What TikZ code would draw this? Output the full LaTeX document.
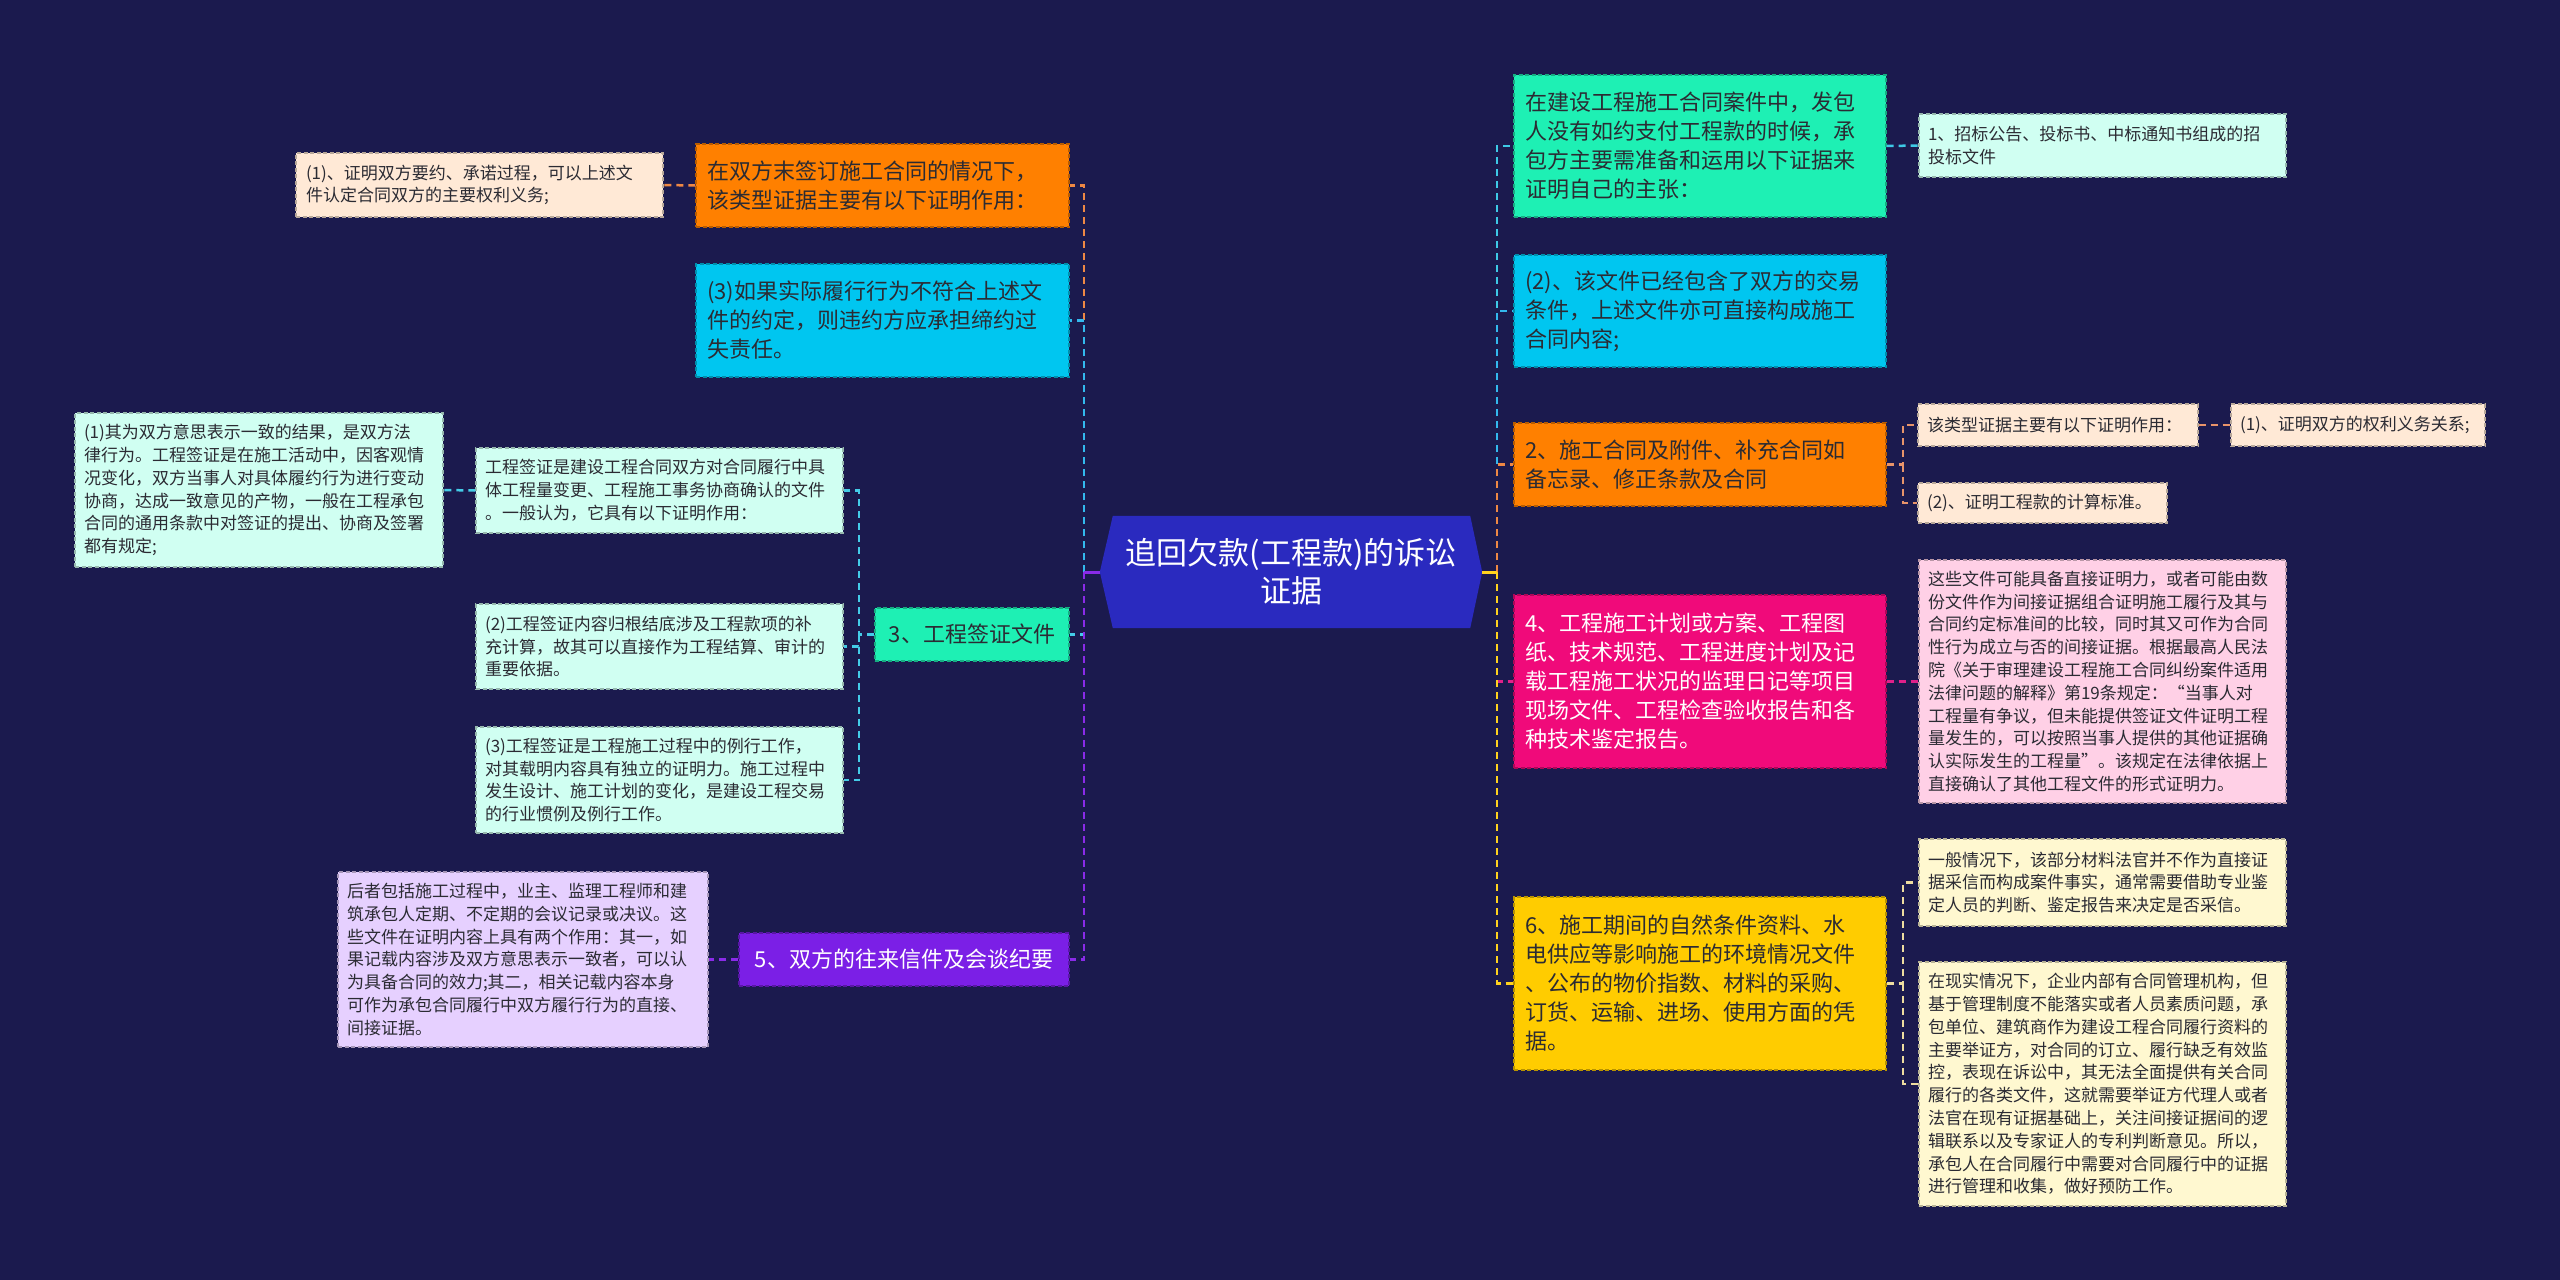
\documentclass[tikz,border=0pt]{standalone}
\usepackage{fontspec}
\setmainfont{Noto Sans CJK SC}
\usetikzlibrary{calc}
\pgfdeclarelayer{bgl}
\pgfsetlayers{bgl,main}

\definecolor{bg}{HTML}{1B1A4E}
\definecolor{hexblue}{HTML}{2A2ABF}
\definecolor{cOrange}{HTML}{FF8000}
\definecolor{cCyan}{HTML}{00C6F0}
\definecolor{cAqua}{HTML}{1EF0B4}
\definecolor{cPurple}{HTML}{7B1FE6}
\definecolor{cMag}{HTML}{F00A7A}
\definecolor{cYellow}{HTML}{FFCC00}
\definecolor{lPeach}{HTML}{FFE9D6}
\definecolor{lMint}{HTML}{D0FFF2}
\definecolor{lLav}{HTML}{E6D0FF}
\definecolor{lPink}{HTML}{FFD0E6}
\definecolor{lYel}{HTML}{FFF8D0}
\definecolor{tDark}{HTML}{2B2B33}
\definecolor{kOrange}{HTML}{EE8844}
\definecolor{kBlue}{HTML}{33B8EE}
\definecolor{kCyan}{HTML}{44CCE8}
\definecolor{kTeal}{HTML}{3EC9E6}
\definecolor{kPurple}{HTML}{8A2BE8}
\definecolor{kMag}{HTML}{E0208A}
\definecolor{kYel}{HTML}{FFD21E}
\definecolor{kYelL}{HTML}{EEDDA0}
\definecolor{kSalmon}{HTML}{E8946A}

\tikzset{
  base/.style={rectangle, dashed, dash pattern=on 4pt off 2.5pt, line width=1.3pt, align=left, inner ysep=0pt, anchor=center},
  big/.style={base, font=\fontsize{22}{29}\selectfont},
  small/.style={base, font=\fontsize{17}{22.8}\selectfont},
  boxc/.style={fill=#1, draw=#1!72!black},
  con/.style={line width=2.5pt, dash pattern=on 7pt off 5pt},
  solidc/.style={line width=3pt},
}

\newcommand\mkbox[8]{%
  \pgfmathsetmacro\bw{#6-#4}%
  \pgfmathsetmacro\bh{#7-#5}%
  \pgfmathsetmacro\tw{#6-#4-2*#3}%
  \pgfmathsetmacro\bcx{(#4+#6)/2}%
  \pgfmathsetmacro\bcy{(#5+#7)/2}%
  \node[#2, inner xsep=#3pt, text width=\tw pt, minimum width=\bw pt, minimum height=\bh pt] (#1) at (\bcx,\bcy) {#8};}

\begin{document}
\begin{tikzpicture}[x=1pt,y=-1pt]
\begin{pgfonlayer}{bgl}
\fill[bg] (0,0) rectangle (2560,1280);
\end{pgfonlayer}
\useasboundingbox (0,0) rectangle (2560,1280);

% root
\node[font=\fontsize{31}{38}\selectfont, text=white, align=center, minimum width=382pt, minimum height=112pt, inner sep=0pt] (root) at (1291,572) {追回欠款(工程款)的诉讼\\证据};
\begin{pgfonlayer}{bgl}
\fill[hexblue] (root.west) -- ([xshift=13pt]root.north west) -- ([xshift=-12pt]root.north east) -- (root.east) -- ([xshift=-12pt]root.south east) -- ([xshift=13pt]root.south west) -- cycle;
\end{pgfonlayer}

% left side
\mkbox{O1}{big, boxc=cOrange, text=tDark}{11}{696}{144}{1069}{227}{在双方末签订施工合同的情况下，\\该类型证据主要有以下证明作用：}
\mkbox{P1}{small, boxc=lPeach, text=tDark}{10}{296}{153}{663}{217}{(1)、证明双方要约、承诺过程，可以上述文\\件认定合同双方的主要权利义务;}
\mkbox{C1}{big, boxc=cCyan, text=tDark}{11}{696}{264}{1069}{377}{(3)如果实际履行行为不符合上述文\\件的约定，则违约方应承担缔约过\\失责任。}
\mkbox{L3}{big, boxc=cAqua, text=tDark, align=center}{8}{875}{608}{1069}{661}{3、工程签证文件}
\mkbox{S1a}{small, boxc=lMint, text=tDark}{9}{75}{413}{443}{567}{(1)其为双方意思表示一致的结果，是双方法\\律行为。工程签证是在施工活动中，因客观情\\况变化，双方当事人对具体履约行为进行变动\\协商，达成一致意见的产物，一般在工程承包\\合同的通用条款中对签证的提出、协商及签署\\都有规定;}
\mkbox{S1}{small, boxc=lMint, text=tDark}{9}{476}{448}{843}{533}{工程签证是建设工程合同双方对合同履行中具\\体工程量变更、工程施工事务协商确认的文件\\。一般认为，它具有以下证明作用：}
\mkbox{S2}{small, boxc=lMint, text=tDark}{9}{476}{604}{843}{689}{(2)工程签证内容归根结底涉及工程款项的补\\充计算，故其可以直接作为工程结算、审计的\\重要依据。}
\mkbox{S3}{small, boxc=lMint, text=tDark}{9}{476}{727}{843}{833}{(3)工程签证是工程施工过程中的例行工作，\\对其载明内容具有独立的证明力。施工过程中\\发生设计、施工计划的变化，是建设工程交易\\的行业惯例及例行工作。}
\mkbox{P5}{big, boxc=cPurple, text=white, align=center}{8}{739}{933}{1069}{986}{5、双方的往来信件及会谈纪要}
\mkbox{L5}{small, boxc=lLav, text=tDark}{9}{338}{872}{708}{1047}{后者包括施工过程中，业主、监理工程师和建\\筑承包人定期、不定期的会议记录或决议。这\\些文件在证明内容上具有两个作用：其一，如\\果记载内容涉及双方意思表示一致者，可以认\\为具备合同的效力;其二，相关记载内容本身\\可作为承包合同履行中双方履行行为的直接、\\间接证据。}

% right side
\mkbox{R1}{big, boxc=cAqua, text=tDark}{11}{1514}{75}{1886}{217}{在建设工程施工合同案件中，发包\\人没有如约支付工程款的时候，承\\包方主要需准备和运用以下证据来\\证明自己的主张：}
\mkbox{R1a}{small, boxc=lMint, text=tDark}{9}{1919}{114}{2286}{177}{1、招标公告、投标书、中标通知书组成的招\\投标文件}
\mkbox{R2}{big, boxc=cCyan, text=tDark}{11}{1514}{255}{1886}{367}{(2)、该文件已经包含了双方的交易\\条件，上述文件亦可直接构成施工\\合同内容;}
\mkbox{R3}{big, boxc=cOrange, text=tDark}{11}{1514}{423}{1886}{506}{2、施工合同及附件、补充合同如\\备忘录、修正条款及合同}
\mkbox{R3a}{small, boxc=lPeach, text=tDark}{9}{1918}{404}{2198}{446}{该类型证据主要有以下证明作用：}
\mkbox{R3b}{small, boxc=lPeach, text=tDark}{9}{2231}{404}{2485}{446}{(1)、证明双方的权利义务关系;}
\mkbox{R3c}{small, boxc=lPeach, text=tDark}{9}{1918}{483}{2167}{523}{(2)、证明工程款的计算标准。}
\mkbox{R4}{big, boxc=cMag, text=white}{11}{1514}{595}{1886}{768}{4、工程施工计划或方案、工程图\\纸、技术规范、工程进度计划及记\\载工程施工状况的监理日记等项目\\现场文件、工程检查验收报告和各\\种技术鉴定报告。}
\mkbox{R4a}{small, boxc=lPink, text=tDark}{9}{1919}{560}{2286}{803}{这些文件可能具备直接证明力，或者可能由数\\份文件作为间接证据组合证明施工履行及其与\\合同约定标准间的比较，同时其又可作为合同\\性行为成立与否的间接证据。根据最高人民法\\院《关于审理建设工程施工合同纠纷案件适用\\法律问题的解释》第19条规定：“当事人对\\工程量有争议，但未能提供签证文件证明工程\\量发生的，可以按照当事人提供的其他证据确\\认实际发生的工程量”。该规定在法律依据上\\直接确认了其他工程文件的形式证明力。}
\mkbox{R5}{big, boxc=cYellow, text=tDark}{11}{1514}{897}{1886}{1070}{6、施工期间的自然条件资料、水\\电供应等影响施工的环境情况文件\\、公布的物价指数、材料的采购、\\订货、运输、进场、使用方面的凭\\据。}
\mkbox{R5a}{small, boxc=lYel, text=tDark}{9}{1919}{839}{2286}{926}{一般情况下，该部分材料法官并不作为直接证\\据采信而构成案件事实，通常需要借助专业鉴\\定人员的判断、鉴定报告来决定是否采信。}
\mkbox{R5b}{small, boxc=lYel, text=tDark}{9}{1919}{962}{2286}{1206}{在现实情况下，企业内部有合同管理机构，但\\基于管理制度不能落实或者人员素质问题，承\\包单位、建筑商作为建设工程合同履行资料的\\主要举证方，对合同的订立、履行缺乏有效监\\控，表现在诉讼中，其无法全面提供有关合同\\履行的各类文件，这就需要举证方代理人或者\\法官在现有证据基础上，关注间接证据间的逻\\辑联系以及专家证人的专利判断意见。所以，\\承包人在合同履行中需要对合同履行中的证据\\进行管理和收集，做好预防工作。}

% junctions
\coordinate (LS) at (1084,572);
\coordinate (RS) at (1497,572);
\coordinate (L3s) at (859,634.5);
\coordinate (R3s) at (1903,464.5);
\coordinate (R5s) at (1903,983.5);

% left connectors
\draw[con, kOrange] (LS) |- (O1.east);
\draw[con, kBlue] (LS) |- (C1.east);
\draw[con, kCyan] (LS) |- (L3.east);
\draw[con, kPurple] (LS) |- (P5.east);
\draw[solidc, kPurple] (root.west) -- (LS);
\draw[con, kOrange] (O1.west) -- (P1.east);
\draw[con, kCyan] (L3.west) -- (L3s) |- (S1.east);
\draw[con, kCyan] (L3s) |- (S2.east);
\draw[con, kCyan] (L3s) |- (S3.east);
\draw[con, kCyan] (S1.west) -- (S1a.east);
\draw[con, kPurple] (P5.west) -- (L5.east);

% right connectors
\draw[con, kTeal] (RS) |- (R1.west);
\draw[con, kBlue] (RS) |- (R2.west);
\draw[con, kOrange] (RS) |- (R3.west);
\draw[con, kMag] (RS) |- (R4.west);
\draw[con, kYel] (RS) |- (R5.west);
\draw[solidc, kYel] (root.east) -- (RS);
\draw[con, kTeal] (R1.east) -- (R1a.west);
\draw[con, kSalmon] (R3.east) -- (R3s) |- (R3a.west);
\draw[con, kSalmon] (R3s) |- (R3c.west);
\draw[con, kSalmon] (R3a.east) -- (R3b.west);
\draw[con, kMag] (R4.east) -- (R4a.west);
\draw[con, kYelL] (R5.east) -- (R5s) |- (R5a.west);
\draw[con, kYelL] (R5s) |- (R5b.west);
\end{tikzpicture}
\end{document}
